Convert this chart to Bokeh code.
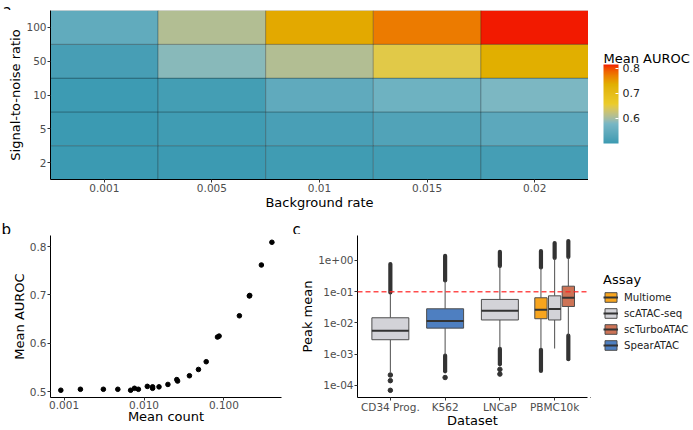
import numpy as np
from bokeh.plotting import figure
from bokeh.layouts import column, row
from bokeh.models import (ColumnDataSource, LinearColorMapper, ColorBar, FixedTicker,
                          Span, Legend, LegendItem, FactorRange, Range1d,
                          NumeralTickFormatter)
from bokeh.core.properties import value
from bokeh.embed import file_html
from bokeh.resources import INLINE

# ---------------- data ----------------
bg_rates = ["0.001", "0.005", "0.01", "0.015", "0.02"]
snr_levels = ["2", "5", "10", "50", "100"]
auroc_snr2 = [0.500, 0.502, 0.505, 0.508, 0.512]
auroc_snr5 = [0.500, 0.505, 0.515, 0.525, 0.540]
auroc_snr10 = [0.503, 0.510, 0.545, 0.565, 0.580]
auroc_snr50 = [0.513, 0.585, 0.608, 0.647, 0.735]
auroc_snr100 = [0.546, 0.608, 0.740, 0.772, 0.814]
colorbar_ticks = [0.6, 0.7, 0.8]

mean_count = [0.00091, 0.0016, 0.0031, 0.0047, 0.0068, 0.0076, 0.0085, 0.011,
              0.0128, 0.0128, 0.0154, 0.0199, 0.0257, 0.0263, 0.037, 0.048,
              0.060, 0.083, 0.087, 0.156, 0.208, 0.210, 0.294, 0.398]
mean_auroc = [0.503, 0.505, 0.505, 0.505, 0.503, 0.507, 0.505, 0.511,
              0.507, 0.510, 0.510, 0.515, 0.525, 0.522, 0.533, 0.546,
              0.562, 0.613, 0.615, 0.657, 0.698, 0.699, 0.762, 0.809]
count_ticks = [0.001, 0.01, 0.1]
auroc_ticks = [0.5, 0.6, 0.7, 0.8]

datasets = ["CD34 Prog.", "K562", "LNCaP", "PBMC10k"]
assays = ["Multiome", "scATAC-seq", "scTurboATAC", "SpearATAC"]
assay_colors = ["#F8A51E", "#D3D3D8", "#CD7356", "#4E7FC1"]
box_dataset = ["CD34 Prog.", "K562", "LNCaP", "PBMC10k", "PBMC10k", "PBMC10k"]
box_assay = ["scATAC-seq", "SpearATAC", "scATAC-seq", "Multiome", "scATAC-seq", "scTurboATAC"]
box_q1 = [0.00289, 0.0068, 0.0124, 0.0136, 0.0124, 0.0336]
box_median = [0.00565, 0.0115, 0.0245, 0.0264, 0.0277, 0.0638]
box_q3 = [0.0146, 0.0283, 0.0565, 0.0638, 0.0736, 0.150]
whisker_lo = [0.000257, 0.00095, 0.00151, 0.00141, 0.00151, 0.00398]
whisker_hi = [0.089, 0.224, 0.646, 0.582, 1.17, 1.27]
# dense runs of outliers (from, to) per box; nan = none
out_hi_from = [0.095, 0.23, 0.66, 0.60, 1.20, 1.30]
out_hi_to = [0.77, 1.40, 1.90, 2.00, 3.60, 4.20]
out_lo_from = [np.nan, 0.00089, 0.00148, 0.00138, np.nan, 0.0039]
out_lo_to = [np.nan, 0.00028, 0.00047, 0.000288, np.nan, 0.00069]
# isolated outliers
single_out_box = [0, 0, 0, 1, 2, 2]
single_out_value = [0.000214, 0.000141, 0.0000692, 0.000178, 0.000324, 0.000229]
peak_threshold = 0.1
peak_ticks = [1e-4, 1e-3, 1e-2, 1e-1, 1e0]
peak_tick_labels = ["1e-04", "1e-03", "1e-02", "1e-01", "1e+00"]

# ---------------- style helpers ----------------
FONT = "DejaVu Sans"
ZISSOU = ["#3B9AB2", "#78B7C5", "#EBCC2A", "#E1AF00", "#F21A00"]
M_RGB2XYZ = np.array([[0.4124, 0.3576, 0.1805], [0.2126, 0.7152, 0.0722], [0.0193, 0.1192, 0.9505]])
WHITE = np.array([0.95047, 1.0, 1.08883])


def _hex2rgb(h):
    return np.array([int(h[i:i + 2], 16) for i in (1, 3, 5)]) / 255.0


def _to_lab(rgb):
    c = np.where(rgb <= 0.04045, rgb / 12.92, ((rgb + 0.055) / 1.055) ** 2.4)
    xyz = M_RGB2XYZ @ c / WHITE
    d = 6 / 29
    f = np.where(xyz > d ** 3, np.cbrt(xyz), xyz / (3 * d * d) + 4 / 29)
    return np.array([116 * f[1] - 16, 500 * (f[0] - f[1]), 200 * (f[1] - f[2])])


def _from_lab(lab):
    d = 6 / 29
    fy = (lab[0] + 16) / 116
    f = np.array([fy + lab[1] / 500, fy, fy - lab[2] / 200])
    xyz = np.where(f > d, f ** 3, 3 * d * d * (f - 4 / 29)) * WHITE
    c = np.clip(np.linalg.inv(M_RGB2XYZ) @ xyz, 0, 1)
    s = np.where(c <= 0.0031308, 12.92 * c, 1.055 * c ** (1 / 2.4) - 0.055)
    s = np.clip(np.round(s * 255), 0, 255).astype(int)
    return "#%02x%02x%02x" % tuple(s)


def lab_palette(stops, n=256):
    labs = [_to_lab(_hex2rgb(h)) for h in stops]
    out = []
    for t in np.linspace(0, 1, n):
        pos = t * (len(stops) - 1)
        i = min(int(pos), len(stops) - 2)
        u = pos - i
        out.append(_from_lab(labs[i] * (1 - u) + labs[i + 1] * u))
    return out


def style_axis(ax):
    ax.axis_line_color = "black"
    ax.axis_line_width = 1
    ax.major_tick_line_color = "#333333"
    ax.major_tick_out = 3
    ax.major_tick_in = 0
    ax.minor_tick_line_color = None
    ax.minor_tick_out = 0
    ax.minor_tick_in = 0
    ax.major_label_text_font = FONT
    ax.major_label_text_font_size = "10.5px"
    ax.major_label_text_color = "#4d4d4d"
    ax.axis_label_text_font = FONT
    ax.axis_label_text_font_size = "13px"
    ax.axis_label_text_font_style = "normal"
    ax.axis_label_text_color = "black"
    ax.major_label_standoff = 1
    ax.axis_label_standoff = 0


def base_style(p):
    p.outline_line_color = None
    p.xgrid.visible = False
    p.ygrid.visible = False
    p.background_fill_color = "white"
    p.border_fill_color = "white"
    for ax in p.xaxis + p.yaxis:
        style_axis(ax)


def blank_fig(w, h, frame_h=None, bottom=0, top=0):
    fh = h if frame_h is None else frame_h
    p = figure(width=w, height=h, x_range=Range1d(0, w), y_range=Range1d(0, fh),
               x_axis_location=None, y_axis_location=None, title=None,
               output_backend="svg", toolbar_location=None,
               min_border_left=0, min_border_right=0, min_border_top=top,
               min_border_bottom=bottom)
    p.outline_line_color = None
    p.xgrid.visible = False
    p.ygrid.visible = False
    return p


W = 692

# ---------------- panel letters ----------------
strip_a = blank_fig(W, 10)
strip_a.text(x=[2], y=[1.2], text=["a"], text_font=value(FONT), text_font_size="15px",
             text_baseline="alphabetic", text_color="black")
strip_bc = blank_fig(W, 22)
strip_bc.text(x=[1, 292], y=[4.2, 4.2], text=["b", "c"], text_font=value(FONT),
              text_font_size="15px", text_baseline="alphabetic", text_color="black")

# ---------------- (a) heatmap ----------------
rows = {"2": auroc_snr2, "5": auroc_snr5, "10": auroc_snr10, "50": auroc_snr50, "100": auroc_snr100}
hx, hy, hv = [], [], []
for s in snr_levels:
    for b, v in zip(bg_rates, rows[s]):
        hx.append(b)
        hy.append(s)
        hv.append(v)
heat_src = ColumnDataSource(dict(x=hx, y=hy, v=hv))
mapper = LinearColorMapper(palette=lab_palette(ZISSOU), low=min(hv), high=max(hv))

H1 = 202
B1 = 33
W1 = 588
p1 = figure(width=W1, height=H1, x_range=FactorRange(factors=bg_rates, range_padding=0),
            y_range=FactorRange(factors=snr_levels, range_padding=0), title=None,
            output_backend="svg", toolbar_location=None,
            min_border_left=50, min_border_right=0, min_border_top=0, min_border_bottom=B1)
p1.rect(x="x", y="y", width=1, height=1, source=heat_src,
        fill_color={"field": "v", "transform": mapper},
        line_color="black", line_alpha=0.35, line_width=0.7)
base_style(p1)
p1.xaxis.axis_label = "Background rate"
p1.yaxis.axis_label = "Signal-to-noise ratio"

# colour bar panel: its frame is aligned with the heatmap frame (height H1 - B1)
F1 = H1 - B1
p_cb = blank_fig(W - W1, H1, frame_h=F1, bottom=B1)
cb = ColorBar(color_mapper=mapper, ticker=FixedTicker(ticks=colorbar_ticks),
              width=15, height=79, location=(15, F1 - 133), margin=0, padding=0, title=None,
              major_label_text_font=FONT, major_label_text_font_size="11px",
              major_label_text_color="#222222", label_standoff=4,
              major_tick_line_color="white", major_tick_in=3, major_tick_out=0,
              bar_line_color=None, background_fill_color=None, border_line_color=None)
p_cb.add_layout(cb)
p_cb.text(x=[15], y=[F1 - 48], text=["Mean AUROC"], text_font=value(FONT),
          text_font_size="13px", text_baseline="alphabetic", text_color="black")

# ---------------- (b) scatter ----------------
H2 = 196
B2 = 27
W2 = 290
p2 = figure(width=W2, height=H2, x_axis_type="log", title=None,
            x_range=Range1d(10 ** -3.17, 10 ** -0.28), y_range=Range1d(0.488, 0.823),
            output_backend="svg", toolbar_location=None,
            min_border_left=50, min_border_right=9, min_border_top=1, min_border_bottom=B2)
p2.scatter(x=mean_count, y=mean_auroc, size=4.6, color="black")
base_style(p2)
p2.xaxis.ticker = FixedTicker(ticks=count_ticks)
p2.xaxis.formatter = NumeralTickFormatter(format="0.000")
p2.yaxis.ticker = FixedTicker(ticks=auroc_ticks)
p2.yaxis.formatter = NumeralTickFormatter(format="0.0")
p2.xaxis.axis_label = "Mean count"
p2.yaxis.axis_label = "Mean AUROC"

# ---------------- (c) box plot ----------------
n_per = {d: box_dataset.count(d) for d in datasets}
seen = {d: 0 for d in datasets}
xc, xl, xr, colors = [], [], [], []
for d, a in zip(box_dataset, box_assay):
    n = n_per[d]
    i = seen[d]
    seen[d] += 1
    slot = 0.75 / n
    pos = datasets.index(d) + 1 - 0.375 + (i + 0.5) * slot
    w = 0.9 * slot
    xc.append(pos)
    xl.append(pos - w / 2)
    xr.append(pos + w / 2)
    colors.append(assay_colors[assays.index(a)])
widths = [r - l for l, r in zip(xl, xr)]
box_src = ColumnDataSource(dict(xc=xc, xl=xl, xr=xr, w=widths, q1=box_q1, med=box_median,
                                q3=box_q3, wlo=whisker_lo, whi=whisker_hi, color=colors,
                                hf=out_hi_from, ht=out_hi_to, lf=out_lo_from, lt=out_lo_to))
single_src = ColumnDataSource(dict(x=[xc[i] for i in single_out_box], y=single_out_value))

W3 = 300
p3 = figure(width=W3, height=H2, x_range=Range1d(0.4, 4.6), title=None,
            y_axis_type="log", y_range=Range1d(10 ** -4.39, 10 ** 0.8),
            output_backend="svg", toolbar_location=None,
            min_border_left=67, min_border_right=3, min_border_top=1, min_border_bottom=B2)
OUTC = "#333333"
p3.segment(x0="xc", y0="hf", x1="xc", y1="ht", source=box_src, line_color=OUTC,
           line_width=4.2, line_cap="round")
p3.segment(x0="xc", y0="lf", x1="xc", y1="lt", source=box_src, line_color=OUTC,
           line_width=4.2, line_cap="round")
p3.scatter(x="x", y="y", source=single_src, size=4.5, color=OUTC)
p3.segment(x0="xc", y0="q3", x1="xc", y1="whi", source=box_src, line_color="#4d4d4d", line_width=1)
p3.segment(x0="xc", y0="q1", x1="xc", y1="wlo", source=box_src, line_color="#4d4d4d", line_width=1)
p3.vbar(x="xc", width="w", top="q3", bottom="q1", source=box_src,
        fill_color="color", line_color="#4d4d4d", line_width=1)
p3.segment(x0="xl", y0="med", x1="xr", y1="med", source=box_src,
           line_color="#333333", line_width=2)
p3.add_layout(Span(location=peak_threshold, dimension="width", line_color="#ff2020",
                   line_dash="5 3", line_width=1.4, line_alpha=0.8))
base_style(p3)
p3.xaxis.ticker = FixedTicker(ticks=[i + 1 for i in range(len(datasets))])
p3.xaxis.major_label_overrides = {i + 1: d for i, d in enumerate(datasets)}
p3.yaxis.ticker = FixedTicker(ticks=peak_ticks)
p3.yaxis.major_label_overrides = {t: l for t, l in zip(peak_ticks, peak_tick_labels)}
p3.xaxis.axis_label = "Dataset"
p3.yaxis.axis_label = "Peak mean"

for p in (p2, p3):
    p.xaxis.major_label_standoff = 0
    p.xaxis.axis_label_standoff = -3

# legend in its own panel (keys drawn by off-screen renderers); frame aligned with p3
F2 = H2 - 1 - B2
p_leg = blank_fig(W - W2 - W3, H2, frame_h=F2, bottom=B2, top=1)
items = []
for a, c in zip(assays, assay_colors):
    rb = p_leg.vbar(x=[-1000], width=1, top=[-1000], bottom=[-1001],
                    fill_color=c, line_color="#4d4d4d", line_width=1)
    rm = p_leg.segment(x0=[-1000], y0=[-1000], x1=[-999], y1=[-1000],
                       line_color="#333333", line_width=2)
    items.append(LegendItem(label=a, renderers=[rb, rm]))
leg = Legend(items=items, title="Assay", location=(13, (H2 - B2) - 357 + 234), margin=0,
             padding=0, spacing=4, glyph_width=15, glyph_height=12, label_height=12,
             label_standoff=6, title_standoff=4,
             title_text_font=FONT, title_text_font_size="13px", title_text_font_style="normal",
             title_text_color="black", label_text_font=FONT, label_text_font_size="10.2px",
             label_text_color="#222222", background_fill_alpha=0, border_line_color=None)
p_leg.add_layout(leg)

layout = column(strip_a, row(p1, p_cb), strip_bc, row(p2, p3, p_leg), spacing=0)
open("out.html", "w").write(file_html(layout, INLINE))
